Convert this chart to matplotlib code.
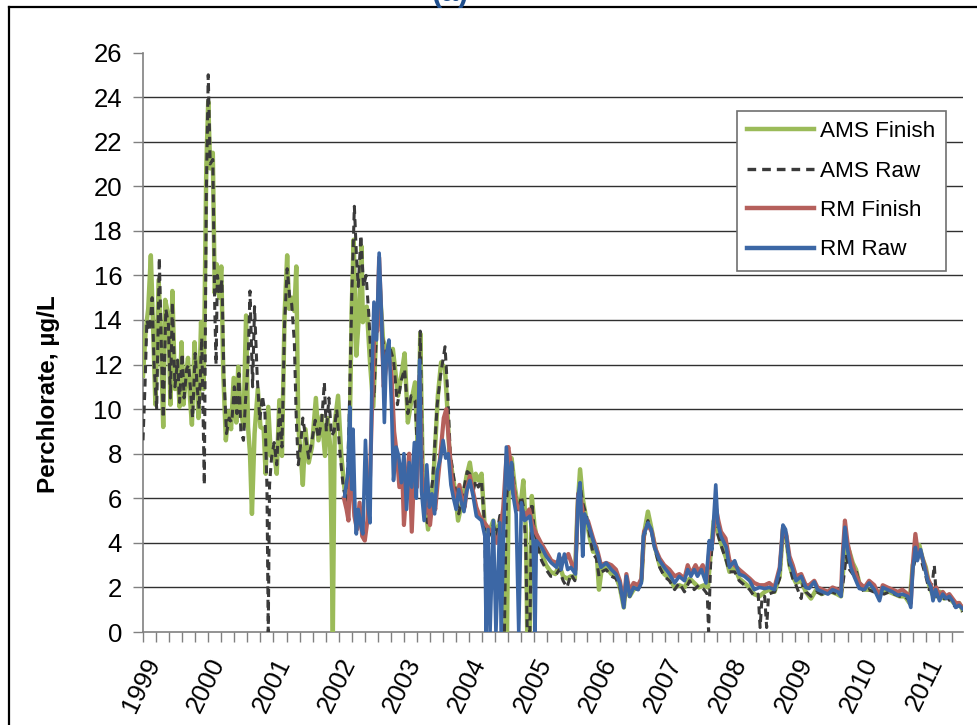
import matplotlib
matplotlib.use("Agg")
import matplotlib.pyplot as plt
import numpy as np
from matplotlib.lines import Line2D

plt.rcParams['font.family'] = ['Liberation Sans', 'DejaVu Sans']

# ---------------- data (decimal years, ug/L) ----------------
ams_finish_t = [
    1999.00, 1999.04, 1999.08, 1999.12, 1999.16, 1999.19, 1999.24, 1999.28, 1999.31, 1999.34,
    1999.39, 1999.42, 1999.45, 1999.49, 1999.53, 1999.56, 1999.59, 1999.62, 1999.66, 1999.69,
    1999.72, 1999.75, 1999.79, 1999.83, 1999.85, 1999.89, 1999.93, 1999.97, 2000.00, 2000.03,
    2000.07, 2000.10, 2000.13, 2000.17, 2000.20, 2000.23, 2000.27, 2000.31, 2000.35, 2000.39,
    2000.43, 2000.46, 2000.49, 2000.54, 2000.58, 2000.61, 2000.64, 2000.67, 2000.71, 2000.76,
    2000.80, 2000.85, 2000.88, 2000.92, 2000.96, 2001.00, 2001.05, 2001.09, 2001.13, 2001.17,
    2001.21, 2001.24, 2001.28, 2001.32, 2001.35, 2001.38, 2001.42, 2001.45, 2001.49, 2001.54,
    2001.59, 2001.65, 2001.69, 2001.74, 2001.79, 2001.83, 2001.87, 2001.91, 2001.94, 2001.99,
    2002.04, 2002.09, 2002.15, 2002.20, 2002.23, 2002.27, 2002.31, 2002.35, 2002.37, 2002.43,
    2002.48, 2002.53, 2002.58, 2002.63, 2002.68, 2002.76, 2002.83, 2002.91, 2002.96, 2003.01,
    2003.06, 2003.11, 2003.17, 2003.22, 2003.25, 2003.29, 2003.37, 2003.45, 2003.52, 2003.57,
    2003.63, 2003.66, 2003.70, 2003.78, 2003.83, 2003.91, 2003.96, 2004.01, 2004.06, 2004.10,
    2004.14, 2004.19, 2004.24, 2004.27, 2004.32, 2004.37, 2004.42, 2004.47, 2004.53, 2004.56,
    2004.58, 2004.61, 2004.65, 2004.70, 2004.75, 2004.80, 2004.83, 2004.87, 2004.89, 2004.93,
    2004.96, 2005.00, 2005.05, 2005.11, 2005.18, 2005.25, 2005.32, 2005.38, 2005.44, 2005.50,
    2005.56, 2005.62, 2005.66, 2005.70, 2005.74, 2005.80, 2005.85, 2005.90, 2005.95, 2005.99,
    2006.03, 2006.10, 2006.18, 2006.25, 2006.31, 2006.37, 2006.41, 2006.46, 2006.52, 2006.59,
    2006.64, 2006.68, 2006.74, 2006.79, 2006.85, 2006.92, 2006.99, 2007.07, 2007.15, 2007.22,
    2007.30, 2007.38, 2007.45, 2007.52, 2007.60, 2007.66, 2007.70, 2007.75, 2007.80, 2007.86,
    2007.94, 2007.99, 2008.07, 2008.14, 2008.22, 2008.30, 2008.37, 2008.45, 2008.53, 2008.60,
    2008.68, 2008.76, 2008.81, 2008.86, 2008.91, 2008.96, 2009.01, 2009.09, 2009.16, 2009.24,
    2009.32, 2009.40, 2009.48, 2009.56, 2009.64, 2009.70, 2009.74, 2009.78, 2009.83, 2009.88,
    2009.93, 2009.98, 2010.05, 2010.12, 2010.20, 2010.28, 2010.36, 2010.44, 2010.52, 2010.60,
    2010.68, 2010.75, 2010.80, 2010.85, 2010.90, 2010.95, 2011.00, 2011.05, 2011.10, 2011.16,
    2011.22, 2011.28, 2011.34, 2011.40, 2011.46, 2011.51, 2011.56]
ams_finish_v = [
    11.5, 13.5, 14.5, 16.9, 13.2, 10.2, 15.8, 12.5, 9.2, 14.9,
    14.2, 10.2, 15.3, 10.9, 12.0, 10.1, 13.0, 10.2, 11.5, 12.3,
    10.5, 9.3, 13.0, 10.9, 9.6, 13.9, 10.9, 20.8, 23.8, 20.8,
    21.5, 15.2, 16.5, 15.0, 16.4, 11.7, 8.6, 9.9, 9.1, 11.4,
    9.4, 11.9, 10.2, 9.2, 14.2, 9.2, 8.0, 5.3, 8.9, 10.9,
    9.2, 9.1, 7.1, 10.1, 7.9, 8.3, 7.1, 10.4, 7.9, 14.2,
    16.9, 14.5, 15.0, 14.4, 16.4, 9.2, 7.9, 6.6, 9.1, 7.6,
    8.3, 10.5, 8.6, 9.7, 7.9, 9.6, 8.3, 0.0, 9.4, 10.6,
    7.9, 6.4, 5.6, 14.6, 17.6, 12.4, 14.2, 17.3, 13.9, 14.6,
    12.1, 10.1, 13.9, 15.4, 13.1, 12.4, 12.7, 10.6, 11.5, 12.5,
    9.4, 10.3, 11.2, 7.6, 13.4, 6.7, 4.6, 6.8, 10.6, 12.1,
    11.8, 10.3, 7.9, 6.4, 5.0, 6.1, 7.0, 7.6, 6.6, 7.1,
    6.8, 7.1, 4.6, 4.2, 4.6, 5.0, 4.4, 4.9, 3.5, 0.0,
    0.0, 7.5, 7.8, 6.5, 5.6, 6.0, 6.8, 4.5, 0.0, 0.0,
    6.1, 4.8, 4.0, 3.5, 3.0, 2.7, 2.6, 3.0, 2.5, 2.4,
    2.5, 2.4, 5.5, 7.3, 6.0, 5.0, 4.2, 3.6, 3.8, 1.9,
    2.8, 2.9, 2.6, 2.5, 2.0, 1.1, 2.3, 1.6, 1.9, 2.0,
    2.3, 4.4, 5.4, 4.7, 3.8, 3.0, 2.6, 2.4, 2.0, 2.1,
    2.0, 2.4, 2.2, 2.0, 2.1, 2.0, 3.5, 5.0, 4.6, 4.0,
    3.3, 2.7, 2.9, 2.4, 2.2, 2.0, 1.7, 1.6, 1.8, 1.9,
    1.8, 2.5, 4.6, 4.3, 3.0, 2.5, 2.2, 2.3, 1.8, 1.5,
    1.9, 1.7, 1.8, 1.8, 1.7, 1.6, 3.0, 4.0, 3.6, 3.1,
    2.8, 2.2, 1.9, 1.9, 1.9, 1.8, 1.8, 1.8, 1.7, 1.6,
    1.6, 1.3, 3.0, 3.5, 3.9, 3.3, 2.9, 2.1, 1.7, 1.6,
    1.8, 1.5, 1.6, 1.4, 1.2, 1.3, 1.0]

ams_raw_t = [
    1999.00, 1999.03, 1999.06, 1999.10, 1999.14, 1999.17, 1999.21, 1999.25, 1999.28, 1999.31,
    1999.35, 1999.39, 1999.42, 1999.45, 1999.49, 1999.53, 1999.56, 1999.60, 1999.63, 1999.67,
    1999.70, 1999.73, 1999.76, 1999.80, 1999.83, 1999.86, 1999.90, 1999.94, 1999.97, 2000.00,
    2000.03, 2000.07, 2000.10, 2000.12, 2000.14, 2000.18, 2000.21, 2000.24, 2000.28, 2000.32,
    2000.36, 2000.40, 2000.44, 2000.47, 2000.50, 2000.54, 2000.57, 2000.61, 2000.64, 2000.68,
    2000.71, 2000.75, 2000.79, 2000.83, 2000.87, 2000.90, 2000.92, 2000.94, 2000.97, 2001.01,
    2001.05, 2001.09, 2001.13, 2001.17, 2001.21, 2001.25, 2001.28, 2001.32, 2001.35, 2001.38,
    2001.42, 2001.45, 2001.49, 2001.54, 2001.59, 2001.64, 2001.69, 2001.74, 2001.78, 2001.81,
    2001.85, 2001.89, 2001.93, 2001.97, 2002.02, 2002.07, 2002.12, 2002.16, 2002.20, 2002.24,
    2002.27, 2002.30, 2002.34, 2002.38, 2002.42, 2002.46, 2002.50, 2002.54, 2002.58, 2002.62,
    2002.66, 2002.72, 2002.78, 2002.84, 2002.90, 2002.96, 2003.01, 2003.06, 2003.11, 2003.17,
    2003.21, 2003.25, 2003.29, 2003.36, 2003.44, 2003.51, 2003.56, 2003.63, 2003.67, 2003.71,
    2003.78, 2003.84, 2003.91, 2003.97, 2004.01, 2004.06, 2004.10, 2004.14, 2004.19, 2004.24,
    2004.26, 2004.29, 2004.33, 2004.37, 2004.42, 2004.48, 2004.50, 2004.54, 2004.57, 2004.61,
    2004.65, 2004.70, 2004.75, 2004.80, 2004.84, 2004.87, 2004.89, 2004.93, 2004.96, 2005.00,
    2005.05, 2005.11, 2005.18, 2005.25, 2005.32, 2005.38, 2005.44, 2005.50, 2005.56, 2005.62,
    2005.66, 2005.70, 2005.74, 2005.80, 2005.85, 2005.90, 2005.95, 2005.99, 2006.03, 2006.10,
    2006.18, 2006.25, 2006.31, 2006.37, 2006.41, 2006.46, 2006.52, 2006.59, 2006.64, 2006.68,
    2006.74, 2006.79, 2006.85, 2006.92, 2006.99, 2007.07, 2007.15, 2007.22, 2007.30, 2007.38,
    2007.45, 2007.52, 2007.60, 2007.65, 2007.67, 2007.70, 2007.75, 2007.80, 2007.86, 2007.94,
    2007.99, 2008.07, 2008.14, 2008.22, 2008.30, 2008.37, 2008.43, 2008.46, 2008.49, 2008.53,
    2008.56, 2008.59, 2008.68, 2008.76, 2008.81, 2008.86, 2008.91, 2008.96, 2009.01, 2009.09,
    2009.12, 2009.16, 2009.24, 2009.32, 2009.40, 2009.48, 2009.56, 2009.64, 2009.70, 2009.74,
    2009.78, 2009.83, 2009.88, 2009.93, 2009.98, 2010.05, 2010.12, 2010.20, 2010.28, 2010.36,
    2010.44, 2010.52, 2010.60, 2010.68, 2010.75, 2010.80, 2010.85, 2010.90, 2010.95, 2011.00,
    2011.05, 2011.10, 2011.13, 2011.16, 2011.22, 2011.28, 2011.34, 2011.40, 2011.46, 2011.51,
    2011.56]
ams_raw_v = [
    8.6, 11.0, 14.0, 13.5, 15.0, 12.0, 10.0, 16.8, 13.0, 9.6,
    14.5, 13.8, 10.5, 14.8, 11.0, 12.2, 10.3, 12.5, 10.5, 11.8,
    12.0, 10.8, 9.6, 12.5, 11.0, 10.0, 13.2, 6.6, 19.5, 25.0,
    21.0, 21.2, 14.5, 12.0, 16.0, 15.2, 15.8, 11.5, 8.9, 9.6,
    9.4, 11.0, 9.8, 11.6, 9.0, 8.6, 10.3, 12.0, 15.3, 11.0,
    14.6, 11.5, 9.5, 10.6, 9.8, 6.5, 0.0, 6.6, 7.8, 8.5,
    7.5, 10.0, 8.3, 13.8, 16.3, 15.0, 14.7, 13.0, 9.5, 7.5,
    8.5, 9.6, 8.8, 7.8, 8.6, 9.5, 8.7, 9.5, 11.2, 9.0,
    10.5, 8.8, 9.0, 10.0, 8.0, 6.5, 5.8, 9.5, 15.0, 19.1,
    17.0, 15.5, 17.8, 15.5, 16.0, 14.3, 12.0, 10.5, 13.5, 15.0,
    13.5, 12.2, 12.8, 12.2, 10.2, 11.3, 11.8, 9.8, 10.6, 10.4,
    8.0, 13.5, 6.5, 4.9, 6.8, 10.2, 11.5, 12.8, 10.8, 8.0,
    6.6, 5.3, 6.3, 7.2, 7.1, 6.3, 6.8, 6.5, 6.8, 4.6,
    0.0, 4.2, 4.5, 4.8, 4.3, 5.4, 0.0, 0.0, 5.8, 7.4,
    7.7, 6.3, 5.4, 6.1, 5.5, 3.5, 0.0, 0.0, 5.8, 4.5,
    3.9, 3.2, 2.8, 2.5, 2.5, 2.8, 2.3, 2.0, 2.6, 2.3,
    5.0, 6.6, 5.8, 5.2, 4.3, 3.5, 3.3, 2.5, 2.7, 2.8,
    2.5, 2.4, 2.0, 1.2, 2.2, 1.6, 2.0, 1.9, 2.2, 4.2,
    5.0, 4.6, 3.7, 2.9, 2.5, 2.3, 1.9, 2.2, 1.8, 2.3,
    1.9, 2.1, 1.9, 1.7, 0.0, 3.0, 4.8, 4.5, 3.9, 3.2,
    2.7, 2.7, 2.3, 2.1, 1.9, 1.6, 1.7, 0.2, 1.6, 1.6,
    0.2, 1.7, 1.8, 2.4, 4.5, 4.2, 3.0, 2.4, 2.1, 1.5,
    2.2, 1.8, 1.6, 1.8, 1.7, 1.7, 1.8, 1.7, 1.6, 2.4,
    3.4, 2.8, 2.6, 2.8, 2.2, 1.8, 1.9, 1.8, 1.8, 1.7,
    1.8, 1.7, 1.6, 1.6, 1.4, 2.8, 3.4, 3.6, 3.0, 2.5,
    1.9, 2.2, 3.0, 1.6, 1.7, 1.5, 1.5, 1.3, 1.1, 1.2,
    0.9]

rm_finish_t = [
    2002.08, 2002.12, 2002.15, 2002.18, 2002.21, 2002.24, 2002.28, 2002.32, 2002.36, 2002.40,
    2002.44, 2002.48, 2002.52, 2002.55, 2002.59, 2002.62, 2002.66, 2002.69, 2002.73, 2002.77,
    2002.81, 2002.85, 2002.89, 2002.93, 2002.97, 2003.00, 2003.04, 2003.08, 2003.12, 2003.16,
    2003.20, 2003.24, 2003.28, 2003.32, 2003.36, 2003.40, 2003.44, 2003.48, 2003.52, 2003.56,
    2003.61, 2003.65, 2003.69, 2003.73, 2003.77, 2003.81, 2003.85, 2003.89, 2003.93, 2003.97,
    2004.01, 2004.06, 2004.11, 2004.16, 2004.21, 2004.26, 2004.31, 2004.36, 2004.42, 2004.47,
    2004.52, 2004.57, 2004.60, 2004.64, 2004.68, 2004.72, 2004.77, 2004.81, 2004.86, 2004.92,
    2004.97, 2005.03, 2005.10, 2005.18, 2005.26, 2005.34, 2005.40, 2005.46, 2005.52, 2005.58,
    2005.63, 2005.67, 2005.71, 2005.76, 2005.82, 2005.90, 2005.97, 2006.02, 2006.10, 2006.18,
    2006.25, 2006.31, 2006.37, 2006.41, 2006.46, 2006.52, 2006.59, 2006.64, 2006.68, 2006.74,
    2006.80, 2006.86, 2006.92, 2006.99, 2007.07, 2007.15, 2007.22, 2007.30, 2007.35, 2007.40,
    2007.47, 2007.52, 2007.58, 2007.64, 2007.69, 2007.73, 2007.78, 2007.82, 2007.86, 2007.93,
    2007.99, 2008.07, 2008.14, 2008.22, 2008.30, 2008.37, 2008.45, 2008.53, 2008.60, 2008.68,
    2008.76, 2008.81, 2008.86, 2008.91, 2008.96, 2009.01, 2009.09, 2009.16, 2009.21, 2009.29,
    2009.34, 2009.42, 2009.50, 2009.57, 2009.65, 2009.70, 2009.72, 2009.76, 2009.80, 2009.85,
    2009.90, 2009.98, 2010.06, 2010.13, 2010.21, 2010.29, 2010.34, 2010.41, 2010.49, 2010.57,
    2010.64, 2010.72, 2010.77, 2010.80, 2010.84, 2010.88, 2010.92, 2010.98, 2011.03, 2011.08,
    2011.12, 2011.16, 2011.21, 2011.26, 2011.31, 2011.36, 2011.41, 2011.46, 2011.51, 2011.56]
rm_finish_v = [
    6.0, 5.5, 5.0, 8.0, 6.5, 5.2, 4.6, 5.8, 4.3, 4.1,
    5.0, 7.0, 11.0, 14.0, 13.5, 16.8, 13.5, 11.0, 12.0, 12.5,
    11.5, 9.0, 8.0, 6.5, 7.5, 4.8, 6.5, 8.0, 4.5, 7.5,
    6.5, 11.5, 6.5, 5.3, 6.5, 4.8, 6.0, 5.5, 6.8, 8.0,
    9.6, 10.0, 8.5, 7.0, 6.2, 5.8, 6.6, 6.0, 5.6, 6.5,
    7.0, 6.3, 5.6, 5.2, 5.0, 4.8, 4.6, 4.5, 4.0, 4.5,
    5.5, 7.8, 8.3, 7.5, 6.5, 5.8, 5.5, 5.5, 5.2, 5.5,
    4.8, 4.4, 4.0, 3.6, 3.2, 3.1, 3.3, 3.2, 3.5, 3.0,
    2.8, 6.2, 6.0, 5.0, 5.0, 4.2, 3.6, 3.0, 3.1, 3.0,
    2.8, 2.3, 1.3, 2.6, 1.8, 2.2, 2.1, 2.4, 4.5, 4.8,
    4.5, 3.7, 3.3, 3.0, 2.8, 2.5, 2.6, 2.4, 3.0, 2.6,
    3.0, 2.7, 3.0, 2.4, 3.9, 4.0, 5.6, 5.0, 4.5, 4.2,
    3.2, 3.0, 2.8, 2.6, 2.4, 2.2, 2.1, 2.1, 2.2, 2.0,
    2.9, 4.7, 4.4, 3.4, 3.0, 2.5, 2.6, 2.1, 2.1, 2.3,
    2.0, 1.9, 1.8, 2.0, 1.9, 1.7, 3.2, 5.0, 4.0, 3.3,
    2.8, 2.2, 2.0, 2.3, 2.1, 1.6, 2.1, 2.0, 1.9, 1.8,
    1.9, 1.7, 1.3, 3.0, 4.4, 3.5, 3.6, 3.0, 2.4, 2.1,
    1.6, 2.0, 1.6, 1.8, 1.6, 1.7, 1.5, 1.3, 1.3, 1.1]

rm_raw_t = [
    2002.09, 2002.14, 2002.17, 2002.20, 2002.22, 2002.25, 2002.27, 2002.30, 2002.35, 2002.37,
    2002.41, 2002.45, 2002.48, 2002.51, 2002.54, 2002.58, 2002.62, 2002.66, 2002.70, 2002.73,
    2002.77, 2002.81, 2002.84, 2002.88, 2002.92, 2002.96, 2003.00, 2003.04, 2003.08, 2003.12,
    2003.16, 2003.19, 2003.24, 2003.27, 2003.31, 2003.35, 2003.39, 2003.43, 2003.47, 2003.51,
    2003.56, 2003.60, 2003.64, 2003.68, 2003.72, 2003.76, 2003.80, 2003.84, 2003.88, 2003.92,
    2003.96, 2004.01, 2004.06, 2004.11, 2004.19, 2004.24, 2004.26, 2004.29, 2004.32, 2004.37,
    2004.41, 2004.47, 2004.49, 2004.53, 2004.57, 2004.61, 2004.65, 2004.67, 2004.72, 2004.76,
    2004.80, 2004.85, 2004.93, 2004.98, 2005.01, 2005.03, 2005.11, 2005.18, 2005.26, 2005.34,
    2005.38, 2005.41, 2005.46, 2005.51, 2005.56, 2005.63, 2005.67, 2005.70, 2005.74, 2005.77,
    2005.82, 2005.90, 2005.97, 2006.02, 2006.10, 2006.18, 2006.25, 2006.31, 2006.37, 2006.41,
    2006.46, 2006.52, 2006.59, 2006.64, 2006.67, 2006.74, 2006.79, 2006.84, 2006.92, 2006.99,
    2007.07, 2007.15, 2007.22, 2007.30, 2007.35, 2007.40, 2007.45, 2007.50, 2007.56, 2007.63,
    2007.68, 2007.72, 2007.78, 2007.81, 2007.86, 2007.94, 2007.99, 2008.07, 2008.14, 2008.22,
    2008.30, 2008.37, 2008.45, 2008.53, 2008.60, 2008.68, 2008.76, 2008.81, 2008.85, 2008.91,
    2008.96, 2009.01, 2009.09, 2009.16, 2009.21, 2009.29, 2009.34, 2009.42, 2009.50, 2009.57,
    2009.65, 2009.70, 2009.72, 2009.76, 2009.80, 2009.85, 2009.90, 2009.98, 2010.06, 2010.13,
    2010.21, 2010.29, 2010.34, 2010.41, 2010.49, 2010.57, 2010.64, 2010.72, 2010.77, 2010.80,
    2010.84, 2010.87, 2010.92, 2010.98, 2011.03, 2011.08, 2011.11, 2011.15, 2011.21, 2011.26,
    2011.31, 2011.36, 2011.41, 2011.46, 2011.51, 2011.56]
rm_raw_v = [
    6.1, 7.1, 10.1, 6.4, 9.1, 5.5, 4.4, 5.5, 4.6, 4.4,
    8.6, 5.6, 4.9, 11.6, 14.8, 13.1, 17.0, 13.9, 9.4, 12.4,
    13.1, 10.1, 6.8, 8.3, 7.9, 6.7, 8.0, 5.5, 7.6, 6.5,
    8.5, 6.0, 12.2, 6.3, 5.0, 7.5, 5.6, 6.2, 5.3, 7.2,
    7.8, 8.6, 7.8, 8.0, 6.6, 6.0, 5.5, 6.4, 5.8, 5.4,
    6.3, 6.8, 6.1, 5.2, 5.0, 4.3, 0.0, 4.6, 0.0, 5.0,
    0.0, 4.9, 0.0, 4.6, 8.3, 6.4, 7.6, 6.2, 5.3, 0.0,
    5.8, 5.0, 5.2, 4.1, 0.0, 4.1, 3.8, 3.4, 3.1, 2.9,
    3.5, 2.8, 3.5, 2.8, 2.9, 2.6, 6.1, 6.7, 3.4, 5.3,
    4.9, 4.1, 3.5, 2.9, 3.1, 2.8, 2.6, 2.2, 1.1, 2.5,
    1.6, 2.0, 1.9, 2.2, 4.3, 4.9, 4.6, 3.8, 3.2, 2.9,
    2.6, 2.2, 2.5, 2.3, 2.8, 2.5, 2.8, 2.5, 2.8, 2.2,
    4.1, 3.7, 6.6, 4.9, 4.3, 3.8, 2.9, 3.2, 2.6, 2.5,
    2.3, 1.9, 2.0, 1.95, 2.0, 1.9, 2.8, 4.8, 4.6, 3.2,
    2.8, 2.3, 2.5, 2.0, 1.95, 2.25, 1.9, 1.8, 1.7, 1.9,
    1.8, 1.6, 2.9, 4.7, 3.7, 2.9, 2.5, 1.95, 1.9, 2.2,
    1.9, 1.4, 2.0, 1.9, 1.8, 1.65, 1.7, 1.6, 1.1, 2.8,
    3.8, 3.2, 3.7, 2.9, 2.3, 2.0, 1.4, 1.9, 1.4, 1.7,
    1.5, 1.6, 1.4, 1.1, 1.2, 1.05]

year_labels = ['1999', '2000', '2001', '2002', '2003', '2004', '2005',
               '2006', '2007', '2008', '2009', '2010', '2011']
series_names = ['AMS Finish', 'AMS Raw', 'RM Finish', 'RM Raw']

# ---------------- figure ----------------
W, H = 977, 725
fig = plt.figure(figsize=(W / 100, H / 100), dpi=100)
ax = fig.add_axes([143 / W, 1 - 632 / H, (963 - 143) / W, (632 - 52.5) / H])

ax.plot(ams_finish_t, ams_finish_v, color='#9BBB59', lw=3.2,
        solid_joinstyle='round', label=series_names[0], zorder=3)
ax.plot(ams_raw_t, ams_raw_v, color='#3a3a3a', lw=2.2, ls=(0, (2.6, 1.8)),
        label=series_names[1], zorder=4)
ax.plot(rm_finish_t, rm_finish_v, color='#B5605C', lw=3.0,
        solid_joinstyle='round', label=series_names[2], zorder=5)
ax.plot(rm_raw_t, rm_raw_v, color='#3C67A5', lw=2.6,
        solid_joinstyle='round', label=series_names[3], zorder=6)

ax.set_xlim(1999, 2011.57)
ax.set_ylim(0, 26)

years = [int(y) for y in year_labels]
ax.set_xticks(years)
ax.set_xticklabels(year_labels, rotation=64, ha='right', va='top',
                   rotation_mode='anchor', fontsize=18.5)
ax.set_xticks(np.arange(1999, 2011.57, 0.2), minor=True)
ax.tick_params(axis='x', which='both', length=7, width=1, color='#808080',
               direction='out', pad=9)
ax.set_yticks(np.arange(0, 27, 2))
ax.tick_params(axis='y', length=7, width=1, color='#808080', labelsize=18.5, pad=8)

ax.yaxis.grid(True, color='#303030', lw=1.0, zorder=1)
ax.get_ygridlines()[-1].set_visible(False)
ax.get_ygridlines()[0].set_visible(False)
ax.set_axisbelow(True)

for s in ['top', 'right']:
    ax.spines[s].set_visible(False)
for s in ['left', 'bottom']:
    ax.spines[s].set_color('#808080')
    ax.spines[s].set_linewidth(1.2)

ax.set_ylabel('Perchlorate, µg/L', fontsize=17.5, fontweight='bold')
ax.yaxis.set_label_coords((60 - 143) / (963 - 143), (632 - 394) / (632 - 52.5))

leg = ax.legend(loc='upper left',
                bbox_to_anchor=((737 - 143) / (963 - 143), (632 - 111) / (632 - 52.5)),
                borderaxespad=0, fontsize=16.2, frameon=True, fancybox=False,
                edgecolor='#707070', framealpha=1, handlelength=2.95,
                handletextpad=0.3, labelspacing=0.82, borderpad=0.45)
leg.get_frame().set_linewidth(1.2)
for h in leg.get_lines():
    h.set_linewidth(3.2)
leg.get_lines()[1].set_linewidth(2.4)

# outer frame of the slide
fig.add_artist(Line2D([9 / W, 1.0], [1 - 7 / H, 1 - 7 / H], color='black', lw=1.6))
fig.add_artist(Line2D([9 / W, 9 / W], [0, 1 - 7 / H], color='black', lw=1.6))
# clipped title remnant (cut by the top edge, as in the source image)
fig.text(450 / W, 1 - 1 / H, '(a)', color='#1F4E8C', fontsize=22,
         fontweight='bold', ha='center', va='baseline')

fig.savefig('out.png', dpi=100)
